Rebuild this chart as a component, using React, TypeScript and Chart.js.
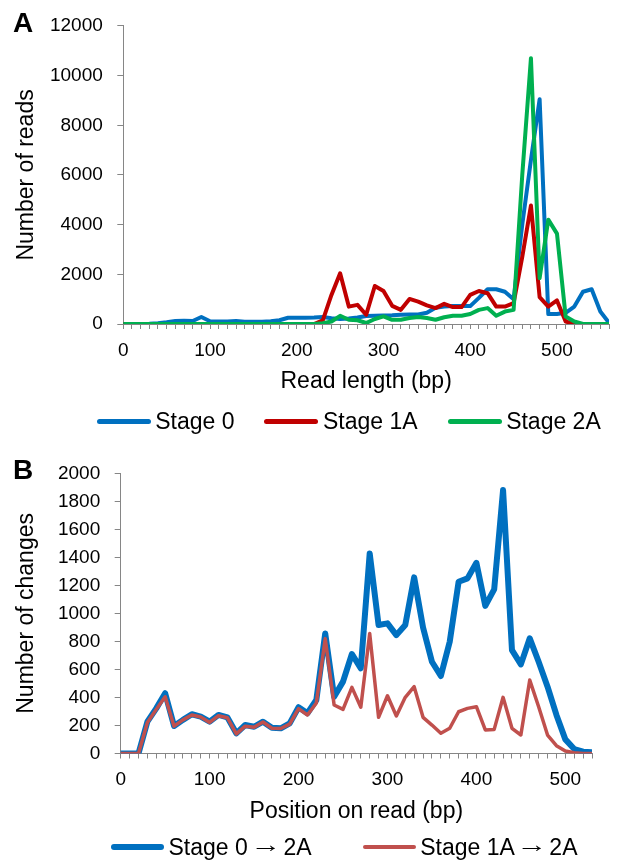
import React, { useEffect, useRef } from 'react';
import { Chart, registerables } from 'chart.js';

Chart.register(...registerables);

// ---------- Panel A data ----------
const readLength = [
  0, 10, 20, 30, 40, 50, 60, 70, 80, 90, 100, 110, 120, 130, 140, 150, 160, 170, 180, 190,
  200, 210, 220, 230, 240, 250, 260, 270, 280, 290, 300, 310, 320, 330, 340, 350, 360, 370, 380, 390,
  400, 410, 420, 430, 440, 450, 460, 470, 480, 490, 500, 510, 520, 530, 540, 550, 560,
];
const stage0 = [
  0, 0, 0, 10, 30, 70, 120, 130, 120, 280, 110, 100, 100, 120, 90, 90, 90, 110, 150, 250,
  250, 250, 260, 280, 230, 200, 220, 260, 320, 330, 340, 350, 370, 380, 380, 450, 650, 700, 720, 720,
  720, 1050, 1400, 1400, 1300, 1000, 4000, 6600, 9050, 400, 400, 450, 700, 1300, 1400, 500, 50,
];
const stage1A = [
  0, 0, 0, 0, 0, 0, 0, 0, 0, 0, 0, 0, 0, 0, 0, 0, 0, 0, 0, 0,
  0, 0, 0, 150, 1170, 2040, 700, 770, 370, 1530, 1330, 730, 570, 1010, 900, 750, 640, 810, 680, 680,
  1170, 1330, 1240, 700, 700, 840, 2700, 4770, 1080, 700, 950, 100, 0, 0, 0, 0, 0,
];
const stage2A = [
  0, 0, 0, 0, 0, 0, 0, 0, 0, 0, 0, 0, 0, 0, 0, 0, 0, 0, 0, 0,
  0, 0, 0, 30, 100, 330, 170, 150, 40, 200, 310, 170, 170, 240, 280, 240, 170, 270, 330, 330,
  400, 570, 640, 330, 500, 570, 6000, 10700, 1840, 4200, 3640, 300, 100, 0, 0, 0, 0,
];
const axisA = { xMax: 560, yMax: 12000, yStep: 2000 };

// ---------- Panel B data ----------
const positionOnRead = [
  0, 10, 20, 30, 40, 50, 60, 70, 80, 90, 100, 110, 120, 130, 140, 150, 160, 170, 180, 190,
  200, 210, 220, 230, 240, 250, 260, 270, 280, 290, 300, 310, 320, 330, 340, 350, 360, 370, 380, 390,
  400, 410, 420, 430, 440, 450, 460, 470, 480, 490, 500, 510, 520, 530,
];
const stage0to2A = [
  0, 0, 0, 227, 322, 430, 196, 240, 280, 263, 227, 275, 258, 144, 203, 191, 227, 184, 180, 215,
  330, 287, 382, 857, 405, 513, 710, 608, 1428, 917, 929, 845, 917, 1257, 900, 655, 553, 798, 1226, 1250,
  1361, 1054, 1171, 1880, 738, 636, 822, 655, 477, 275, 101, 32, 13, 8,
];
const stage1Ato2A = [
  0, 0, 0, 222, 315, 405, 195, 240, 275, 260, 222, 270, 255, 140, 195, 188, 225, 180, 178, 210,
  320, 275, 360, 820, 346, 315, 472, 330, 857, 258, 412, 268, 401, 477, 258, 203, 144, 180, 298, 322,
  334, 168, 172, 401, 180, 132, 524, 334, 132, 56, 18, 5, 0, 0,
];
const axisB = { xMax: 530, yMax: 2000, yStep: 200 };

const FONT = '"Liberation Sans", Arial, Helvetica, sans-serif';
const AXIS = '#868686';
const TEXT = '#000000';

type Series = { label: string; xs: number[]; ys: number[]; color: string; width: number; order: number };

function buildConfig(opts: {
  series: Series[];
  xMax: number;
  yMax: number;
  yStep: number;
  xTitle: string;
  yTitle: string;
  padTop: number;
  padRight: number;
  xHeight: number;
  yWidth: number;
}): any {
  return {
    type: 'line',
    data: {
      datasets: opts.series.map((s) => ({
        label: s.label,
        data: s.xs.map((x, i) => ({ x, y: s.ys[i] })),
        borderColor: s.color,
        backgroundColor: s.color,
        borderWidth: s.width,
        pointRadius: 0,
        pointHoverRadius: 0,
        tension: 0,
        borderJoinStyle: 'round',
        borderCapStyle: 'round',
        fill: false,
        order: s.order,
      })),
    },
    options: {
      responsive: false,
      animation: false,
      devicePixelRatio: 1,
      layout: { padding: { left: 0, right: opts.padRight, top: opts.padTop, bottom: 0 } },
      plugins: { legend: { display: false }, tooltip: { enabled: false } },
      events: [],
      scales: {
        x: {
          type: 'linear',
          min: 0,
          max: opts.xMax,
          afterFit: (s: any) => {
            s.height = opts.xHeight;
          },
          border: { display: true, color: AXIS, width: 1 },
          grid: { display: true, drawOnChartArea: false, drawTicks: true, tickLength: 5, color: AXIS, lineWidth: 1 },
          ticks: {
            stepSize: 10,
            maxTicksLimit: 100,
            autoSkip: false,
            maxRotation: 0,
            minRotation: 0,
            padding: 10,
            color: TEXT,
            font: { family: FONT, size: 19 },
            callback: (v: any) => {
              const n = Math.round(Number(v));
              return n % 100 === 0 ? String(n) : '';
            },
          },
          title: {
            display: true,
            text: opts.xTitle,
            color: TEXT,
            font: { family: FONT, size: 23 },
            padding: { top: 0, bottom: 35 },
          },
        },
        y: {
          type: 'linear',
          min: 0,
          max: opts.yMax,
          afterFit: (s: any) => {
            s.width = opts.yWidth;
          },
          border: { display: true, color: AXIS, width: 1 },
          grid: { display: true, drawOnChartArea: false, drawTicks: true, tickLength: 6, color: AXIS, lineWidth: 1 },
          ticks: {
            stepSize: opts.yStep,
            padding: 14.5,
            color: TEXT,
            font: { family: FONT, size: 19 },
            callback: (v: any) => String(Math.round(Number(v))),
          },
          title: {
            display: true,
            text: opts.yTitle,
            color: TEXT,
            font: { family: FONT, size: 23 },
            padding: { top: 13.2, bottom: 0 },
          },
        },
      },
    },
  };
}

function ChartCanvas({ config }: { config: any }) {
  const ref = useRef<HTMLCanvasElement | null>(null);
  useEffect(() => {
    if (!ref.current) return;
    const chart = new Chart(ref.current, config);
    return () => chart.destroy();
  }, [config]);
  return <canvas ref={ref} width={619} height={430} style={{ display: 'block', width: 619, height: 430 }} />;
}

type LegendItem = { label: string; color: string; thickness: number };

function renderLabel(label: string) {
  const parts = label.split('\u2192');
  if (parts.length === 1) return label;
  return (
    <>
      {parts[0]}
      <span style={{ display: 'inline-block', transform: 'translateY(-3px) scaleX(1.35)' }}>{'\u2192'}</span>
      {parts[1]}
    </>
  );
}

function Legend({ items, top, left, lineWidth, gap, itemGap }: { items: LegendItem[]; top: number; left: number; lineWidth: number; gap: number; itemGap: number }) {
  return (
    <div
      style={{
        position: 'absolute',
        top,
        left,
        display: 'flex',
        alignItems: 'center',
        fontFamily: FONT,
        fontSize: 23,
        lineHeight: '23px',
        color: TEXT,
        whiteSpace: 'nowrap',
      }}
    >
      {items.map((it, i) => (
        <div key={it.label} style={{ display: 'flex', alignItems: 'center', marginRight: i < items.length - 1 ? itemGap : 0 }}>
          <div style={{ width: lineWidth, height: it.thickness, background: it.color, borderRadius: it.thickness / 2, marginRight: gap }} />
          <span>{renderLabel(it.label)}</span>
        </div>
      ))}
    </div>
  );
}

const configA = buildConfig({
  series: [
    { label: 'Stage 0', xs: readLength, ys: stage0, color: '#0070C0', width: 4, order: 3 },
    { label: 'Stage 1A', xs: readLength, ys: stage1A, color: '#C00000', width: 4, order: 2 },
    { label: 'Stage 2A', xs: readLength, ys: stage2A, color: '#00B050', width: 4, order: 1 },
  ],
  xMax: axisA.xMax,
  yMax: axisA.yMax,
  yStep: axisA.yStep,
  xTitle: 'Read length (bp)',
  yTitle: 'Number of reads',
  padTop: 23.5,
  padRight: 4,
  xHeight: 106,
  yWidth: 123.3,
});

const configB = buildConfig({
  series: [
    { label: 'Stage 0 \u2192 2A', xs: positionOnRead, ys: stage0to2A, color: '#0070C0', width: 6, order: 2 },
    { label: 'Stage 1A \u2192 2A', xs: positionOnRead, ys: stage1Ato2A, color: '#C0504D', width: 3.5, order: 1 },
  ],
  xMax: axisB.xMax,
  yMax: axisB.yMax,
  yStep: axisB.yStep,
  xTitle: 'Position on read (bp)',
  yTitle: 'Number of changes',
  padTop: 43.3,
  padRight: 27,
  xHeight: 106.5,
  yWidth: 120.7,
});

export default function App() {
  return (
    <div style={{ position: 'absolute', left: 0, top: 0, width: 619, height: 860, overflow: 'hidden', background: '#fff' }}>
      <div style={{ position: 'absolute', left: 0, top: 0 }}>
        <ChartCanvas config={configA} />
      </div>
      <div style={{ position: 'absolute', left: 0, top: 430 }}>
        <ChartCanvas config={configB} />
      </div>
      <div style={{ position: 'absolute', left: 13, top: 9, fontFamily: FONT, fontSize: 28, fontWeight: 'bold', lineHeight: '28px', color: TEXT }}>A</div>
      <div style={{ position: 'absolute', left: 13, top: 455.6, fontFamily: FONT, fontSize: 28, fontWeight: 'bold', lineHeight: '28px', color: TEXT }}>B</div>
      <Legend
        items={[
          { label: 'Stage 0', color: '#0070C0', thickness: 5 },
          { label: 'Stage 1A', color: '#C00000', thickness: 5 },
          { label: 'Stage 2A', color: '#00B050', thickness: 5 },
        ]}
        top={409.5}
        left={96.7}
        lineWidth={54}
        gap={4.5}
        itemGap={30}
      />
      <Legend
        items={[
          { label: 'Stage 0 \u2192 2A', color: '#0070C0', thickness: 6 },
          { label: 'Stage 1A \u2192 2A', color: '#C0504D', thickness: 4 },
        ]}
        top={835.5}
        left={111}
        lineWidth={53}
        gap={4.5}
        itemGap={51}
      />
    </div>
  );
}
